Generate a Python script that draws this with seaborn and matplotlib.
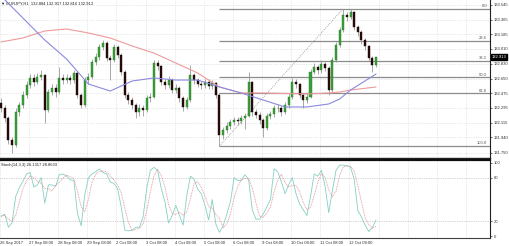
import numpy as np
import pandas as pd
import matplotlib
matplotlib.use("Agg")
import matplotlib.pyplot as plt
import seaborn as sns

# ---------------- data ----------------
first_open = 132.360
close = [132.294, 132.173, 131.907, 131.846, 132.246, 132.331, 132.452, 132.573, 132.658, 132.609,
         132.670, 132.694, 132.270, 132.488, 132.537, 132.488, 132.658, 132.633, 132.658, 132.633,
         132.718, 132.452, 132.331, 132.633, 132.670, 132.851, 132.912, 133.033, 133.081, 132.900,
         132.876, 133.033, 132.936, 132.730, 132.452, 132.391, 132.331, 132.246, 132.294, 132.270,
         132.416, 132.428, 132.839, 132.803, 132.609, 132.573, 132.633, 132.512, 132.537, 132.416,
         132.307, 132.391, 132.694, 132.633, 132.585, 132.573, 132.609, 132.561, 132.597, 132.452,
         131.968, 132.028, 132.077, 132.125, 132.149, 132.137, 132.173, 132.198, 132.609, 132.246,
         132.210, 132.149, 132.052, 132.198, 132.222, 132.294, 132.300, 132.246, 132.331, 132.428,
         132.609, 132.585, 132.452, 132.391, 132.428, 132.730, 132.791, 132.755, 132.827, 132.779,
         132.512, 132.876, 133.057, 133.239, 133.420, 133.396, 133.457, 133.275, 133.215, 133.118,
         133.045, 132.900, 132.815, 132.913]
high = [132.410, 132.330, 132.200, 131.940, 132.290, 132.370, 132.500, 132.620, 132.710, 132.700,
        132.720, 132.755, 132.710, 132.530, 132.590, 132.580, 132.790, 132.700, 132.710, 132.690,
        132.760, 132.730, 132.480, 132.670, 132.720, 132.890, 132.960, 133.070, 133.118, 133.100,
        132.940, 133.070, 133.060, 132.960, 132.750, 132.490, 132.430, 132.360, 132.340, 132.330,
        132.450, 132.470, 132.876, 132.870, 132.820, 132.650, 132.680, 132.660, 132.580, 132.560,
        132.440, 132.430, 132.815, 132.720, 132.660, 132.620, 132.650, 132.640, 132.630, 132.610,
        132.470, 132.070, 132.120, 132.160, 132.190, 132.180, 132.210, 132.230, 132.730, 132.620,
        132.280, 132.240, 132.170, 132.230, 132.260, 132.330, 132.340, 132.320, 132.370, 132.470,
        132.658, 132.640, 132.600, 132.480, 132.470, 132.770, 132.840, 132.820, 132.870, 132.850,
        132.800, 132.910, 133.090, 133.280, 133.499, 133.460, 133.490, 133.470, 133.300, 133.240,
        133.140, 133.060, 132.920, 132.917]
low = [132.250, 132.120, 131.860, 131.750, 131.820, 132.200, 132.300, 132.420, 132.540, 132.560,
       132.580, 132.630, 132.110, 132.240, 132.450, 132.430, 132.460, 132.590, 132.600, 132.590,
       132.600, 132.410, 132.290, 132.310, 132.590, 132.640, 132.820, 132.880, 133.000, 132.860,
       132.633, 132.850, 132.900, 132.690, 132.410, 132.340, 132.280, 132.173, 132.200, 132.200,
       132.240, 132.370, 132.410, 132.760, 132.570, 132.530, 132.540, 132.470, 132.480, 132.370,
       132.260, 132.280, 132.370, 132.590, 132.550, 132.530, 132.540, 132.520, 132.530, 132.410,
       131.834, 131.920, 131.990, 132.040, 132.090, 132.090, 132.100, 132.040, 132.180, 132.200,
       132.170, 132.100, 131.940, 132.030, 132.160, 132.190, 132.250, 132.200, 132.220, 132.300,
       132.400, 132.540, 132.410, 132.294, 132.350, 132.410, 132.700, 132.710, 132.720, 132.740,
       132.450, 132.490, 132.850, 133.030, 133.210, 133.350, 133.370, 133.240, 133.170, 133.070,
       133.000, 132.860, 132.730, 132.790]

ma_bars = [0, 6, 12, 18, 24, 30, 36, 42, 48, 54, 60, 66, 72, 78, 84, 90, 93, 96, 103]
ma_red = [133.094, 133.142, 133.227, 133.251, 133.203, 133.142, 133.045, 132.960, 132.839, 132.718,
          132.549, 132.476, 132.476, 132.470, 132.464, 132.476, 132.488, 132.512, 132.549]
ma_blue = [133.650, 133.384, 133.118, 132.888, 132.585, 132.500, 132.621, 132.658, 132.633, 132.633,
           132.549, 132.476, 132.391, 132.307, 132.307, 132.343, 132.403, 132.512, 132.706]

stoch_main = [27, 30, 12, 18, 54, 66, 75, 85, 87, 67, 70, 80, 45, 70, 70, 68, 84, 85, 82, 77,
              76, 30, 14, 57, 80, 85, 88, 92, 87, 85, 74, 72, 65, 40, 8, 7, 8, 12, 12, 26,
              65, 90, 94, 90, 65, 47, 18, 28, 42, 28, 15, 55, 82, 78, 64, 58, 42, 22, 50, 16,
              5, 14, 30, 47, 80, 76, 76, 84, 77, 36, 23, 23, 30, 40, 50, 92, 88, 74, 58, 70,
              80, 58, 44, 36, 28, 54, 85, 82, 90, 68, 32, 62, 90, 97, 97, 96, 94, 78, 35, 26,
              15, 6, 12, 22]

fib_low, fib_high = 131.834, 133.499
fib_start, fib_end = 60, 94
fib_levels = [0.0, 23.6, 38.2, 50.0, 61.8, 100.0]
price_ticks = [133.545, 133.365, 133.185, 133.010, 132.830, 132.650, 132.475,
               132.295, 132.115, 131.940, 131.750]
date_labels = ["26 Sep 2017", "27 Sep 08:00", "28 Sep 08:00", "29 Sep 08:00", "2 Oct 08:00",
               "3 Oct 08:00", "4 Oct 08:00", "5 Oct 08:00", "6 Oct 08:00", "9 Oct 08:00",
               "10 Oct 08:00", "11 Oct 08:00", "12 Oct 08:00"]
bars_per_label = 8
stoch_ticks = [100, 80, 20, 0]
header_main = "EURJPY,H1  132.884 132.917 132.816 132.913"
header_stoch = "Stoch(14,3,3) 26.1317 28.8633"

# ---------------- frame ----------------
n = len(close)
opens = [first_open] + close[:-1]
df = pd.DataFrame({"bar": np.arange(n), "open": opens, "close": close, "high": high, "low": low,
                   "stoch": stoch_main})
df["signal"] = df["stoch"].rolling(3, min_periods=1).mean()
ma = pd.DataFrame({"bar": ma_bars, "red": ma_red, "blue": ma_blue})

sns.set_theme(style="white")
plt.rcParams["font.family"] = ["Liberation Sans", "DejaVu Sans"]
W, H = 510, 246
fig = plt.figure(figsize=(W / 100, H / 100), dpi=100)
fig.patch.set_facecolor("white")
ax = fig.add_axes([0, 1 - 158 / H, 490 / W, 158 / H])
ax2 = fig.add_axes([0, 8 / H, 490 / W, 78 / H])

xmin, xmax = -0.28, 134.3
gridcol = "#d4d4d4"
fs = 3.0
tc = "#303030"

for a in (ax, ax2):
    a.set_facecolor("white")
    a.set_xlim(xmin, xmax)
    for k in range(0, 17):
        a.axvline(k * bars_per_label - 0.3, color=gridcol, lw=0.5, ls=(0, (1, 1.5)), zorder=0)
    a.spines["left"].set_visible(False)
    a.spines["right"].set_color("#202020")
    a.spines["right"].set_linewidth(0.8)

# main price panel
ax.set_ylim(131.689, 133.602)
for p in price_ticks:
    ax.axhline(p, color=gridcol, lw=0.5, ls=(0, (1, 1.5)), zorder=0)

up = df["close"] >= df["open"]
ax.vlines(df["bar"], df["low"], df["high"], color="#9a9a9a", lw=0.6, zorder=2)
body = (df["close"] - df["open"]).abs().clip(lower=0.006)
bottom = df[["open", "close"]].min(axis=1)
ax.bar(df["bar"][up], body[up], bottom=bottom[up], width=0.55, color="#38a038",
       edgecolor="#2a7a2a", linewidth=0.3, zorder=3)
ax.bar(df["bar"][~up], body[~up], bottom=bottom[~up], width=0.55, color="#2a0c0c",
       edgecolor="#1a0505", linewidth=0.3, zorder=3)

sns.lineplot(data=ma, x="bar", y="red", ax=ax, color="#ef9a9a", lw=0.8, zorder=4)
sns.lineplot(data=ma, x="bar", y="blue", ax=ax, color="#8a8ae0", lw=0.8, zorder=4)

# fibonacci
for lvl in fib_levels:
    p = fib_high - (fib_high - fib_low) * lvl / 100.0
    ax.hlines(p, fib_start, xmax, color="#8c8c8c", lw=0.9, zorder=1)
    ax.text(xmax - 0.8, p + 0.008, f"{lvl:.1f}", ha="right", va="bottom", fontsize=fs,
            color="#505050", zorder=5)
ax.plot([fib_start, fib_end], [fib_low, fib_high], color="#8c8c8c", lw=0.6,
        ls=(0, (1, 1.5)), zorder=1)

ax.yaxis.tick_right()
ax.set_yticks(price_ticks)
ax.set_yticklabels([f"{p:.3f}" for p in price_ticks], fontsize=fs, color=tc)
ax.tick_params(axis="y", length=1.5, width=0.5, pad=1.0, colors=tc)
ax.set_xticks([])
ax.set_xlabel("")
ax.set_ylabel("")
ax.spines["top"].set_visible(False)
ax.spines["bottom"].set_color("#202020")
ax.spines["bottom"].set_linewidth(1.0)

ax.text(1.003, close[-1], f"{close[-1]:.3f}", transform=ax.get_yaxis_transform(),
        ha="left", va="center", fontsize=fs, color="white",
        bbox=dict(boxstyle="square,pad=0.2", fc="black", ec="black"))
ax.text(0.003, 0.99, "\u25BC " + header_main, transform=ax.transAxes, ha="left", va="top",
        fontsize=fs, color="#202020")

# stochastic panel
ax2.set_ylim(-2.7, 104.1)
for v in (80, 20):
    ax2.axhline(v, color="#a8a8a8", lw=0.5, ls=(0, (1, 1.5)), zorder=0)
sns.lineplot(data=df, x="bar", y="stoch", ax=ax2, color="#84d0c4", lw=0.6, zorder=3)
sns.lineplot(data=df, x="bar", y="signal", ax=ax2, color="#e08a8a", lw=0.6,
             ls=(0, (1, 1)), zorder=3)
ax2.yaxis.tick_right()
ax2.set_yticks(stoch_ticks)
ax2.set_yticklabels([str(t) for t in stoch_ticks], fontsize=fs, color=tc)
ax2.tick_params(axis="y", length=1.5, width=0.5, pad=1.0, colors=tc)
ticks = [k * bars_per_label - 0.3 for k in range(len(date_labels))]
ax2.set_xticks(ticks)
ax2.set_xticklabels(date_labels, fontsize=fs, color=tc, ha="left")
ax2.tick_params(axis="x", length=1.5, width=0.5, pad=1, colors=tc)
ax2.set_xlabel("")
ax2.set_ylabel("")
ax2.spines["top"].set_color("#101010")
ax2.spines["top"].set_linewidth(1.6)
ax2.spines["bottom"].set_color("#404040")
ax2.spines["bottom"].set_linewidth(0.8)
ax2.text(0.003, 0.965, header_stoch, transform=ax2.transAxes, ha="left", va="top",
         fontsize=fs, color="#202020")

fig.savefig("out.png", dpi=100, facecolor="white")
